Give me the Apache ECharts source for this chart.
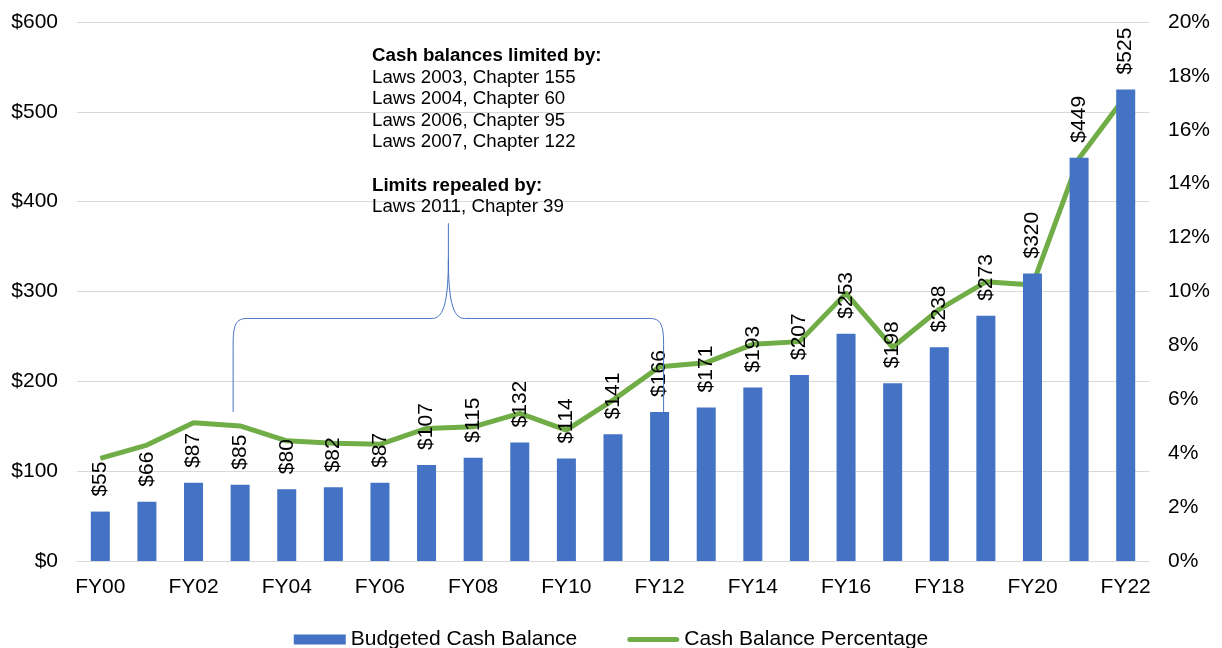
<!DOCTYPE html>
<html>
<head>
<meta charset="utf-8">
<script src="https://cdn.jsdelivr.net/npm/echarts@6/dist/echarts.min.js"></script>
<style>
  html, body { margin: 0; padding: 0; background: #fff; }
  #chart { width: 1222px; height: 648px; }
</style>
</head>
<body>
<div id="chart"></div>
<script>
var years = ['FY00', 'FY01', 'FY02', 'FY03', 'FY04', 'FY05', 'FY06', 'FY07', 'FY08', 'FY09', 'FY10', 'FY11',
  'FY12', 'FY13', 'FY14', 'FY15', 'FY16', 'FY17', 'FY18', 'FY19', 'FY20', 'FY21', 'FY22'];
// budgeted cash balance, $ millions
var cashBalance = [55, 66, 87, 85, 80, 82, 87, 107, 115, 132, 114, 141, 166, 171, 193, 207, 253, 198, 238, 273, 320, 449, 525];
// cash balance as %
var cashPct = [3.81, 4.30, 5.13, 5.01, 4.46, 4.37, 4.33, 4.92, 4.98, 5.48, 4.86, 5.97, 7.21, 7.36, 8.04, 8.14,
  9.93, 7.93, 9.34, 10.36, 10.24, 14.94, 17.25];
var noteLines = [
  '{b|Cash balances limited by:}',
  'Laws 2003, Chapter 155',
  'Laws 2004, Chapter 60',
  'Laws 2006, Chapter 95',
  'Laws 2007, Chapter 122',
  ' ',
  '{b|Limits repealed by:}',
  'Laws 2011, Chapter 39'
];
// brace: spans FY03..FY12, in $ units on the left axis
var braceFrom = 'FY03', braceTo = 'FY12';
var braceBottom = 166, braceShoulder = 270, bracePeak = 376;

var font = "'Liberation Sans', Arial, sans-serif";
var chartDom = document.getElementById('chart');
var myChart = echarts.init(chartDom);
var option;

option = {
  animation: false,
  grid: { left: 77, right: 73, top: 22, bottom: 87 },
  textStyle: { fontFamily: font },
  legend: {
    top: 624,
    left: 'center',
    itemWidth: 52,
    itemHeight: 10,
    itemGap: 50,
    textStyle: { fontSize: 21, color: '#000', fontFamily: font },
    data: [
      { name: 'Budgeted Cash Balance', icon: 'rect' },
      { name: 'Cash Balance Percentage', icon: 'path://M2.5,0 L49.5,0 A2.5,2.5 0 0 1 49.5,5 L2.5,5 A2.5,2.5 0 0 1 2.5,0 Z' }
    ]
  },
  xAxis: {
    type: 'category',
    data: years,
    axisLine: { lineStyle: { color: '#d9d9d9', width: 1 } },
    axisTick: { show: false },
    axisLabel: { interval: 1, fontSize: 21, color: '#000', margin: 16, fontFamily: font }
  },
  yAxis: [
    {
      type: 'value',
      min: 0,
      max: 600,
      interval: 100,
      axisLine: { show: false },
      axisTick: { show: false },
      splitLine: { lineStyle: { color: '#d9d9d9', width: 1 } },
      axisLabel: { formatter: '${value}', fontSize: 21, color: '#000', margin: 19, fontFamily: font }
    },
    {
      type: 'value',
      min: 0,
      max: 20,
      interval: 2,
      axisLine: { show: false },
      axisTick: { show: false },
      splitLine: { show: false },
      axisLabel: { formatter: '{value}%', fontSize: 21, color: '#000', margin: 19, fontFamily: font }
    }
  ],
  series: [
    {
      name: 'Budgeted Cash Balance',
      type: 'bar',
      data: cashBalance,
      barWidth: 19,
      itemStyle: { color: '#4472C4' },
      label: {
        show: true,
        position: 'top',
        rotate: 90,
        align: 'left',
        verticalAlign: 'middle',
        distance: 15,
        fontSize: 21,
        color: '#000',
        fontFamily: font,
        formatter: function (p) { return '$' + p.value; }
      },
      z: 2
    },
    {
      name: 'Cash Balance Percentage',
      type: 'line',
      yAxisIndex: 1,
      data: cashPct,
      symbol: 'none',
      lineStyle: { color: '#70AD47', width: 5, join: 'round' },
      itemStyle: { color: '#70AD47' },
      z: 1
    }
  ]
};

option && myChart.setOption(option);

// annotation: brace + note text, anchored in data space
var pl = myChart.convertToPixel({ xAxisIndex: 0, yAxisIndex: 0 }, [braceFrom, braceBottom]);
var pr = myChart.convertToPixel({ xAxisIndex: 0, yAxisIndex: 0 }, [braceTo, braceShoulder]);
var xl = pl[0] - 7, xr = pr[0] + 4, yb = pl[1], yh = pr[1];
var xm = (xl + xr) / 2;
var yp = myChart.convertToPixel({ yAxisIndex: 0 }, bracePeak);
var braceStyle = { fill: null, stroke: '#4472C4', lineWidth: 1 };

function seg(x1, y1, x2, y2) {
  return { type: 'line', shape: { x1: x1, y1: y1, x2: x2, y2: y2 }, style: braceStyle, z: 5 };
}
function curve(x1, y1, c1x, c1y, c2x, c2y, x2, y2) {
  return {
    type: 'bezierCurve',
    shape: { x1: x1, y1: y1, cpx1: c1x, cpy1: c1y, cpx2: c2x, cpy2: c2y, x2: x2, y2: y2 },
    style: braceStyle,
    z: 5
  };
}

var brace = [
  seg(xl, yb, xl, yh + 26),
  curve(xl, yh + 26, xl, yh + 6, xl + 3, yh, xl + 14, yh),
  seg(xl + 14, yh, xm - 16, yh),
  curve(xm - 16, yh, xm - 4, yh, xm, yh - 20, xm, yh - 60),
  seg(xm, yh - 60, xm, yp),
  curve(xm, yh - 60, xm, yh - 20, xm + 4, yh, xm + 16, yh),
  seg(xm + 16, yh, xr - 14, yh),
  curve(xr - 14, yh, xr - 3, yh, xr, yh + 6, xr, yh + 26),
  seg(xr, yh + 26, xr, yb)
];

brace.push({
  type: 'text',
  left: 372,
  top: 45,
  z: 6,
  style: {
    text: noteLines.join('\n'),
    font: '18.7px ' + font,
    fill: '#000',
    lineHeight: 21.6,
    rich: {
      b: { fontWeight: 'bold', fontSize: 18.7, fontFamily: font, lineHeight: 21.6, fill: '#000' }
    }
  }
});

myChart.setOption({ graphic: brace });
</script>
</body>
</html>
